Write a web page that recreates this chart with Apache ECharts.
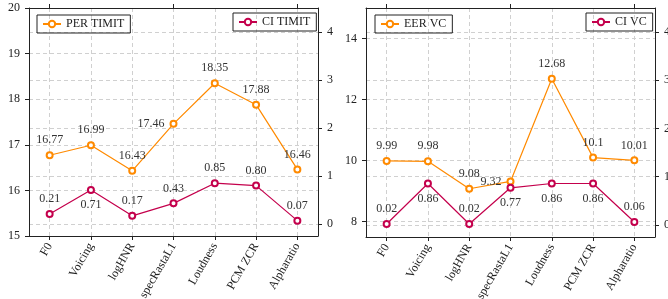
<!DOCTYPE html>
<html>
<head>
<meta charset="utf-8">
<script src="https://cdn.jsdelivr.net/npm/echarts@6/dist/echarts.min.js"></script>
<style>
  html, body { margin: 0; padding: 0; background: #fff; }
  #chart { width: 668px; height: 299px; }
</style>
</head>
<body>
<div id="chart"></div>
<script>
const categories = ['F0', 'Voicing', 'logHNR', 'specRastaL1', 'Loudness', 'PCM ZCR', 'Alpharatio'];
const perTimit = [16.77, 16.99, 16.43, 17.46, 18.35, 17.88, 16.46];
const ciTimit = [0.21, 0.71, 0.17, 0.43, 0.85, 0.80, 0.07];
const eerVc = [9.99, 9.98, 9.08, 9.32, 12.68, 10.1, 10.01];
const ciVc = [0.02, 0.86, 0.02, 0.77, 0.86, 0.86, 0.06];

const leftTicksTimit = [15, 16, 17, 18, 19, 20];
const leftTicksVc = [8, 10, 12, 14];
const ciTicks = [0, 1, 2, 3, 4];

// where each value label sits relative to its marker
const perTimitPos = ['top', 'top', 'top', 'left', 'top', 'top', 'top'];
const ciTimitPos = ['top', 'bottom', 'top', 'top', 'top', 'top', 'top'];
const eerVcPos = ['top', 'top', 'top', 'left', 'top', 'top', 'top'];
const ciVcPos = ['top', 'bottom', 'top', 'bottom', 'bottom', 'bottom', 'top'];

const ORANGE = '#ff8a00';
const CRIMSON = '#c4004c';
const FONT = 'Liberation Serif';

const chart = echarts.init(document.getElementById('chart'));

function items(values, pos) {
  return values.map((v, i) => ({ value: v, label: { position: pos[i] } }));
}

function lineSeries(name, color, values, pos, xi, yi, fixed) {
  return {
    name: name,
    type: 'line',
    xAxisIndex: xi,
    yAxisIndex: yi,
    data: items(values, pos),
    symbol: 'emptyCircle',
    symbolSize: 6,
    lineStyle: { color: color, width: 1.2 },
    itemStyle: { color: color, borderWidth: 1.2 },
    label: {
      show: true,
      distance: 5,
      fontFamily: FONT,
      fontSize: 12,
      color: '#333',
      formatter: (p) => fixed ? p.value.toFixed(2) : String(p.value),
    },
    animation: false,
  };
}

const dashed = { show: true, lineStyle: { color: '#d0d0d0', type: [4, 3], width: 1 } };
const axisLine = { show: true, onZero: false, lineStyle: { color: '#222', width: 1 } };

function xAxes(gi) {
  return [
    {
      gridIndex: gi, type: 'category', data: categories, position: 'bottom',
      boundaryGap: true,
      axisLine: axisLine,
      axisTick: { show: true, alignWithLabel: true, length: 4, lineStyle: { color: '#222' } },
      axisLabel: { rotate: 60, margin: 8, fontFamily: FONT, fontSize: 12, color: '#222' },
      splitLine: Object.assign({ alignWithLabel: true }, dashed),
    },
    {
      gridIndex: gi, type: 'category', data: categories, position: 'top',
      boundaryGap: true,
      axisLine: axisLine,
      axisTick: { show: true, alignWithLabel: true, length: 4, lineStyle: { color: '#222' } },
      axisLabel: { show: false },
      splitLine: { show: false },
    },
  ];
}

function yAxis(gi, pos, min, max, ticks) {
  return {
    gridIndex: gi, type: 'value', position: pos, min: min, max: max,
    axisLine: axisLine,
    axisTick: { show: true, length: 4, customValues: ticks, lineStyle: { color: '#222' } },
    axisLabel: { customValues: ticks, margin: 9, fontFamily: FONT, fontSize: 12, color: '#222' },
    splitLine: dashed,
  };
}

function legend(name, left, top) {
  return {
    data: [name],
    left: left, top: top,
    orient: 'horizontal',
    borderColor: '#222', borderWidth: 1,
    padding: [3, 6, 3, 5],
    itemWidth: 18, itemHeight: 8, itemGap: 4,
    textStyle: { fontFamily: FONT, fontSize: 12, color: '#222' },
    selectedMode: false,
  };
}

const option = {
  animation: false,
  grid: [
    { left: 29, top: 8, width: 289, height: 228, containLabel: false, outerBoundsMode: 'none' },
    { left: 366, top: 8, width: 289, height: 229, containLabel: false, outerBoundsMode: 'none' },
  ],
  legend: [
    legend('PER TIMIT', 37, 15),
    legend('CI TIMIT', 233, 13),
    legend('EER VC', 375, 15),
    legend('CI VC', 586, 13),
  ],
  xAxis: xAxes(0).concat(xAxes(1)),
  yAxis: [
    yAxis(0, 'left', 15, 20, leftTicksTimit),
    yAxis(0, 'right', -0.25, 4.5, ciTicks),
    yAxis(1, 'left', 7.5, 15, leftTicksVc),
    yAxis(1, 'right', -0.25, 4.5, ciTicks),
  ],
  series: [
    lineSeries('PER TIMIT', ORANGE, perTimit, perTimitPos, 0, 0, true),
    lineSeries('CI TIMIT', CRIMSON, ciTimit, ciTimitPos, 0, 1, true),
    lineSeries('EER VC', ORANGE, eerVc, eerVcPos, 2, 2, false),
    lineSeries('CI VC', CRIMSON, ciVc, ciVcPos, 2, 3, true),
  ],
};

chart.setOption(option);
</script>
</body>
</html>
